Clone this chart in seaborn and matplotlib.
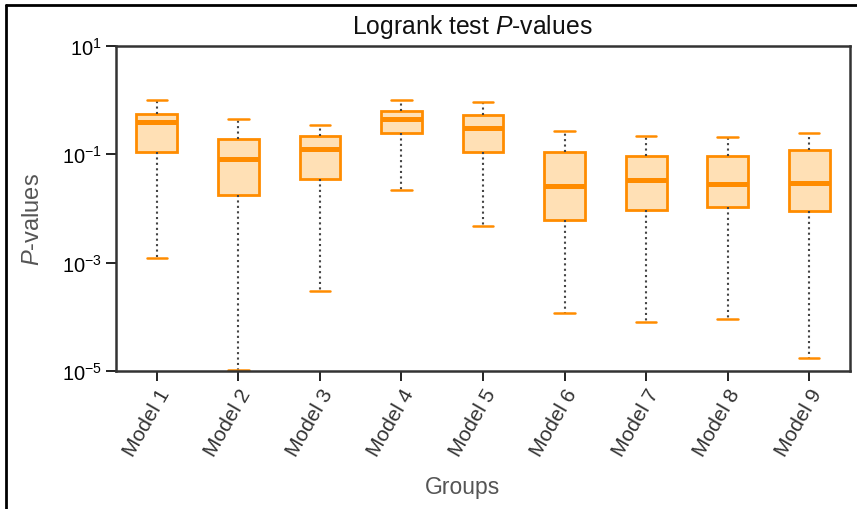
import numpy as np
import pandas as pd
import matplotlib
matplotlib.use("Agg")
import matplotlib.pyplot as plt
import seaborn as sns
from matplotlib.lines import Line2D

groups = ["Model 1", "Model 2", "Model 3", "Model 4", "Model 5",
          "Model 6", "Model 7", "Model 8", "Model 9"]
# five-number summaries: low whisker, Q1, median, Q3, high whisker
lows    = [0.00123, 1.05e-5, 3.06e-4, 0.022, 0.00478, 1.2e-4, 8.2e-5, 9.3e-5, 1.73e-5]
q1s     = [0.109, 0.0178, 0.0356, 0.248, 0.109, 0.00617, 0.00955, 0.0107, 0.00904]
medians = [0.40, 0.081, 0.127, 0.444, 0.30, 0.0265, 0.0333, 0.028, 0.0297]
q3s     = [0.56, 0.195, 0.221, 0.64, 0.53, 0.111, 0.092, 0.092, 0.119]
highs   = [1.0, 0.444, 0.348, 1.0, 0.94, 0.267, 0.221, 0.209, 0.248]
ytick_vals = [1e-5, 1e-3, 1e-1, 1e1]
ytick_labels = [r"$\mathregular{10^{-5}}$", r"$\mathregular{10^{-3}}$",
                r"$\mathregular{10^{-1}}$", r"$\mathregular{10^{1}}$"]

rows = []
for g, a, b, c, d, e in zip(groups, lows, q1s, medians, q3s, highs):
    for v in (a, b, c, d, e):
        rows.append({"Groups": g, "P": v})
df = pd.DataFrame(rows)

sns.set_style("white")
plt.rcParams["font.family"] = ["Liberation Sans", "DejaVu Sans"]
plt.rcParams["mathtext.fontset"] = "custom"
plt.rcParams["mathtext.rm"] = "Liberation Sans"
plt.rcParams["mathtext.it"] = "Liberation Sans:italic"

fig = plt.figure(figsize=(8.57, 5.10), dpi=100)
ax = fig.add_axes([116/857, 1 - 372/510, (850-116)/857, (372-47)/510])

orange = "#FF8C00"
fill = "#FFE0B5"
sns.boxplot(data=df, x="Groups", y="P", ax=ax, log_scale=True, whis=(0, 100),
            width=0.5, color=fill, linecolor=orange, linewidth=2.0,
            boxprops=dict(facecolor=fill, edgecolor=orange, linewidth=2.0),
            medianprops=dict(color=orange, linewidth=3.6),
            whiskerprops=dict(color="#444444", linestyle=(0, (1, 1.6)), linewidth=1.5),
            capprops=dict(color=orange, linewidth=1.8),
            showfliers=False)

ax.set_ylim(1e-5, 10)
ax.set_yticks(ytick_vals)
ax.yaxis.set_minor_locator(matplotlib.ticker.NullLocator())
ax.set_yticklabels(ytick_labels)
ax.tick_params(axis="y", labelsize=14.5, length=7, width=1.4, colors="#222222",
               labelcolor="black", left=True, direction="out", pad=3)
ax.tick_params(axis="x", labelsize=15, length=7, width=1.4, colors="#222222",
               labelcolor="#333333", bottom=True, direction="out", pad=3)
for lab in ax.get_xticklabels():
    lab.set_rotation(60)
    lab.set_ha("right")
    lab.set_rotation_mode("anchor")

for sp in ax.spines.values():
    sp.set_visible(True)
    sp.set_color("#333333")
    sp.set_linewidth(1.8)

ax.set_xlabel("Groups", fontsize=16.5, color="#555555")
ax.xaxis.set_label_coords((462 - 116) / 734, (372 - 476) / 325)
ax.set_ylabel(r"$P$-values", fontsize=17, color="#555555")
ax.yaxis.set_label_coords((44 - 116) / 734, (372 - 220) / 325)
ax.set_title(r"Logrank test $P$-values", fontsize=17.8, color="#111111",
             x=(472.5 - 116) / 734, pad=9.5)

# figure frame (top and left edges)
fig.add_artist(Line2D([6/857, 1.0], [1 - 6/510, 1 - 6/510], color="black", lw=2,
                      transform=fig.transFigure))
fig.add_artist(Line2D([6/857, 6/857], [0, 1 - 6/510], color="black", lw=2,
                      transform=fig.transFigure))

fig.savefig("out.png", dpi=100)
